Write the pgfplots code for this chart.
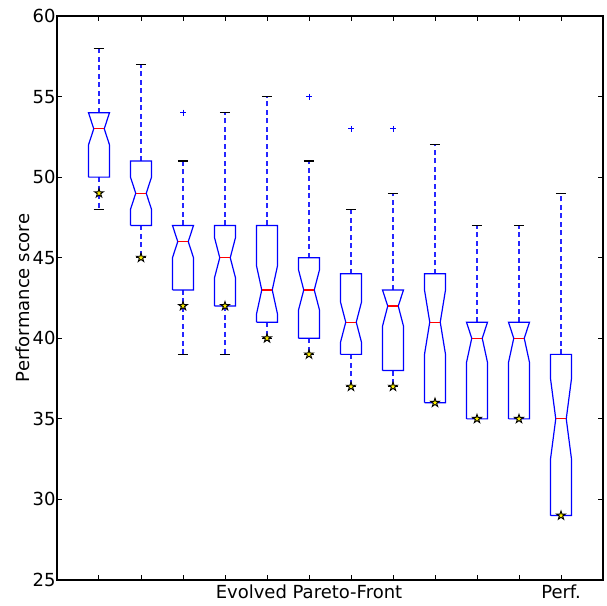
\documentclass[border=0pt]{standalone}
\usepackage{fontspec}
\setmainfont{DejaVu Sans}
\usepackage{pgfplots}
\pgfplotsset{compat=1.18}
\pgfdeclareplotmark{fstar}{%
  \pgfpathmoveto{\pgfpointpolar{90}{\pgfplotmarksize}}%
  \pgfpathlineto{\pgfpointpolar{126}{0.382*\pgfplotmarksize}}%
  \pgfpathlineto{\pgfpointpolar{162}{\pgfplotmarksize}}%
  \pgfpathlineto{\pgfpointpolar{198}{0.382*\pgfplotmarksize}}%
  \pgfpathlineto{\pgfpointpolar{234}{\pgfplotmarksize}}%
  \pgfpathlineto{\pgfpointpolar{270}{0.382*\pgfplotmarksize}}%
  \pgfpathlineto{\pgfpointpolar{306}{\pgfplotmarksize}}%
  \pgfpathlineto{\pgfpointpolar{342}{0.382*\pgfplotmarksize}}%
  \pgfpathlineto{\pgfpointpolar{18}{\pgfplotmarksize}}%
  \pgfpathlineto{\pgfpointpolar{54}{0.382*\pgfplotmarksize}}%
  \pgfpathclose
  \pgfusepathqfillstroke}
% #1 pos, #2 lower whisker, #3 q1, #4 notch low, #5 median, #6 notch high, #7 q3, #8 upper whisker
\newcommand\bxp[8]{%
  \pgfmathsetmacro\xa{#1-0.25}\pgfmathsetmacro\xb{#1+0.25}%
  \pgfmathsetmacro\xc{#1-0.125}\pgfmathsetmacro\xd{#1+0.125}%
  \addplot[whisk] coordinates {(#1,#7) (#1,#8)};
  \addplot[whisk] coordinates {(#1,#3) (#1,#2)};
  \addplot[capst] coordinates {(\xc,#8) (\xd,#8)};
  \addplot[capst] coordinates {(\xc,#2) (\xd,#2)};
  \addplot[bx] coordinates {(\xa,#3) (\xb,#3) (\xb,#4) (\xd,#5) (\xb,#6) (\xb,#7) (\xa,#7) (\xa,#6) (\xc,#5) (\xa,#4) (\xa,#3)};
  \addplot[medst] coordinates {(\xc,#5) (\xd,#5)};
}
\begin{document}
\begin{tikzpicture}
\begin{axis}[
  scale only axis, width=546pt, height=564pt,
  xmin=0, xmax=13, ymin=25, ymax=60,
  xtick={1,...,12},
  xticklabels={,,,,,Evolved Pareto-Front,,,,,,Perf.},
  ytick={25,30,...,60},
  tick align=inside, xtick pos=both, ytick pos=both,
  major tick length=5.5pt,
  tick style={black, line width=1pt},
  axis line style={black, line width=1.1pt},
  /pgf/number format/assume math mode=true,
  tick label style={font=\fontsize{18}{21}\selectfont},
  label style={font=\fontsize{18}{21}\selectfont},
  ylabel={Performance score},
  ylabel shift=-4pt,
  yticklabel style={xshift=2pt},
  xticklabel style={yshift=-1pt},
  whisk/.style={blue!85!white, line width=1.1pt, dash pattern=on 5pt off 3.5pt},
  capst/.style={black, line width=1.1pt},
  bx/.style={blue, line width=1.2pt, line join=miter},
  medst/.style={red, line width=1.2pt},
]
\bxp{1}{48}{50}{52}{53}{54}{54}{58}
\bxp{2}{45}{47}{48}{49}{50}{51}{57}
\bxp{3}{39}{43}{45}{46}{47}{47}{51}
\bxp{4}{39}{42}{43.75}{45}{46.25}{47}{54}
\bxp{5}{40}{41}{41.5}{43}{44.5}{47}{55}
\bxp{6}{39}{40}{41.75}{43}{44.25}{45}{51}
\bxp{7}{37}{39}{39.75}{41}{42.25}{44}{48}
\bxp{8}{37}{38}{40.75}{42}{43}{43}{49}
\bxp{9}{36}{36}{39}{41}{43}{44}{52}
\bxp{10}{35}{35}{38.5}{40}{41}{41}{47}
\bxp{11}{35}{35}{38.5}{40}{41}{41}{47}
\bxp{12}{29}{29}{32.5}{35}{37.5}{39}{49}
% outliers
\addplot[only marks, mark=+, mark size=3pt, blue, line width=1pt] coordinates {(3,54) (6,55) (7,53) (8,53)};
% stars
\addplot[only marks, mark=fstar, mark size=4.6pt, mark options={fill=yellow, draw=black, line width=0.9pt}] coordinates {
(1,49) (2,45) (3,42) (4,42) (5,40) (6,39) (7,37) (8,37) (9,36) (10,35) (11,35) (12,29)};
\end{axis}
\pgfresetboundingbox
\path[use as bounding box] ([shift={(-57pt,-25pt)}]current axis.south west) rectangle ([shift={(4pt,16pt)}]current axis.north east);
\end{tikzpicture}
\end{document}
